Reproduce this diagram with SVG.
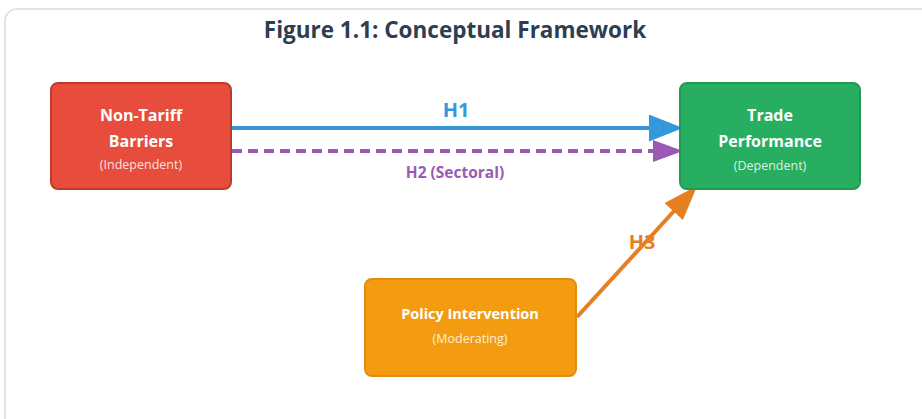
<svg xmlns="http://www.w3.org/2000/svg" width="922" height="419" viewBox="0 0 922 419">
<style>
text{font-family:"Open Sans","Noto Sans","DejaVu Sans",sans-serif;text-anchor:middle}
.title{font-size:22.5px;font-weight:bold;fill:#2c3e50}
.nt{font-size:16px;font-weight:bold;fill:#ffffff}
.nt.sm{font-size:14.5px}
.ns{font-size:12.5px;fill:#ffffff;fill-opacity:0.85}
.lbl{font-weight:bold}
</style>
<defs>
<marker id="mBlue" markerUnits="userSpaceOnUse" markerWidth="34" markerHeight="27" refX="2" refY="13.5" orient="auto"><path d="M0,0 L34,13.5 L0,27 z" fill="#3498db"/></marker>
<marker id="mPurple" markerUnits="userSpaceOnUse" markerWidth="30" markerHeight="22" refX="2" refY="11" orient="auto"><path d="M0,0 L30,11 L0,22 z" fill="#9b59b6"/></marker>
<marker id="mOrange" markerUnits="userSpaceOnUse" markerWidth="35" markerHeight="25" refX="2" refY="12.5" orient="auto"><path d="M0,0 L35,12.5 L0,25 z" fill="#e67e22"/></marker>
</defs>
<rect x="0" y="0" width="922" height="419" fill="#ffffff"/>
<rect x="5" y="9" width="940" height="440" rx="12" fill="#ffffff" stroke="#e3e3e3" stroke-width="2"/>
<text class="title" x="455" y="38">Figure 1.1: Conceptual Framework</text>
<g id="connectors">
<line x1="232" y1="128" x2="651" y2="128" stroke="#3498db" stroke-width="4" marker-end="url(#mBlue)"/>
<line x1="232" y1="151" x2="655" y2="151" stroke="#9b59b6" stroke-width="4" stroke-dasharray="10,6" marker-end="url(#mPurple)"/>
<line x1="577" y1="317" x2="675" y2="210" stroke="#e67e22" stroke-width="4" marker-end="url(#mOrange)"/>
<text class="lbl" x="456" y="117" font-size="20" fill="#3498db">H1</text>
<text class="lbl" x="455" y="178" font-size="15.5" fill="#9b59b6">H2 (Sectoral)</text>
<text class="lbl" x="642" y="249" font-size="20" fill="#e67e22">H3</text>
</g>
<g id="node-ntb">
<rect x="51" y="83" width="180" height="106" rx="7" fill="#e74c3c" stroke="#c0392b" stroke-width="2"/>
<text class="nt" x="141" y="121">Non-Tariff</text>
<text class="nt" x="141" y="147">Barriers</text>
<text class="ns" x="141" y="169">(Independent)</text>
</g>
<g id="node-trade">
<rect x="680" y="83" width="180" height="106" rx="7" fill="#27ae60" stroke="#229954" stroke-width="2"/>
<text class="nt" x="770" y="121">Trade</text>
<text class="nt" x="770" y="147">Performance</text>
<text class="ns" x="770" y="170">(Dependent)</text>
</g>
<g id="node-policy">
<rect x="365" y="279" width="211" height="97" rx="7" fill="#f39c12" stroke="#e08e0b" stroke-width="2"/>
<text class="nt sm" x="470" y="319">Policy Intervention</text>
<text class="ns" x="470" y="343">(Moderating)</text>
</g>
</svg>
